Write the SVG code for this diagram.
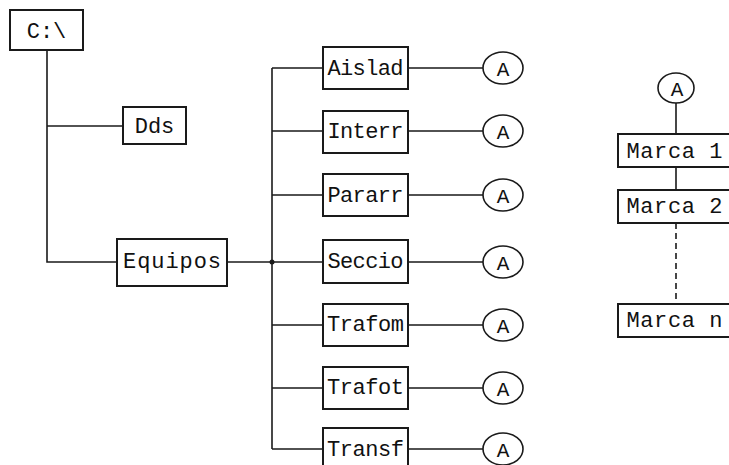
<svg xmlns="http://www.w3.org/2000/svg" width="729" height="465" viewBox="0 0 729 465">
  <style>
    .box { fill: #fff; stroke: #1a1a1a; stroke-width: 2; }
    .ref { fill: #fff; stroke: #1a1a1a; stroke-width: 1.6; }
    .wire { fill: none; stroke: #1a1a1a; stroke-width: 1.6; }
    .dash { fill: none; stroke: #1a1a1a; stroke-width: 1.6; stroke-dasharray: 6 4; }
    text { font-family: "Liberation Mono", "Courier New", monospace; font-size: 22px; fill: #111; text-anchor: middle; }
    .a { font-size: 21px; }
  </style>
  <rect width="729" height="465" fill="#fff"/>

  <!-- connectors -->
  <g id="connectors">
    <path class="wire" d="M47 50 V262 H117"/>
    <path class="wire" d="M47 126 H123"/>
    <path class="wire" d="M227 262 H323"/>
    <path class="wire" d="M272 68 V449"/>
    <path class="wire" d="M272 68 H323 M272 131 H323 M272 195 H323 M272 325 H323 M272 388 H323 M272 449 H323"/>
    <circle cx="272" cy="262" r="2.5" fill="#1a1a1a"/>
    <path class="wire" d="M408 68 H483 M408 131 H483 M408 195 H483 M408 262 H483 M408 325 H483 M408 388 H483 M408 449 H483"/>
    <path class="wire" d="M676 103 V134 M676 167 V190"/>
    <path class="dash" d="M676 223 V304"/>
  </g>

  <!-- tree nodes -->
  <g id="root"><rect class="box" x="10" y="10" width="73" height="40"/><text x="46.5" y="38">C:\</text></g>
  <g id="dds"><rect class="box" x="123" y="107" width="63" height="37"/><text x="154.5" y="133">Dds</text></g>
  <g id="equipos"><rect class="box" x="117" y="239" width="110" height="47"/><text x="172" y="268" textLength="98">Equipos</text></g>

  <g id="aislad"><rect class="box" x="323" y="47" width="85" height="42"/><text x="365.5" y="75" textLength="76">Aislad</text></g>
  <g id="interr"><rect class="box" x="323" y="111" width="85" height="42"/><text x="365.5" y="138" textLength="76">Interr</text></g>
  <g id="pararr"><rect class="box" x="323" y="174" width="85" height="42"/><text x="365.5" y="202" textLength="76">Pararr</text></g>
  <g id="seccio"><rect class="box" x="323" y="240" width="85" height="43"/><text x="365.5" y="268" textLength="76">Seccio</text></g>
  <g id="trafom"><rect class="box" x="323" y="304" width="85" height="42"/><text x="365.5" y="331" textLength="77">Trafom</text></g>
  <g id="trafot"><rect class="box" x="323" y="367" width="85" height="42"/><text x="365.5" y="394" textLength="77">Trafot</text></g>
  <g id="transf"><rect class="box" x="323" y="428" width="85" height="44"/><text x="365.5" y="456" textLength="77">Transf</text></g>

  <!-- off-page references -->
  <g id="ref-aislad"><ellipse class="ref" cx="503" cy="68" rx="20" ry="16"/><text class="a" x="503" y="76">A</text></g>
  <g id="ref-interr"><ellipse class="ref" cx="503" cy="131" rx="20" ry="16"/><text class="a" x="503" y="139">A</text></g>
  <g id="ref-pararr"><ellipse class="ref" cx="503" cy="195" rx="20" ry="16"/><text class="a" x="503" y="203">A</text></g>
  <g id="ref-seccio"><ellipse class="ref" cx="503" cy="262" rx="20" ry="16"/><text class="a" x="503" y="270">A</text></g>
  <g id="ref-trafom"><ellipse class="ref" cx="503" cy="325" rx="20" ry="16"/><text class="a" x="503" y="333">A</text></g>
  <g id="ref-trafot"><ellipse class="ref" cx="503" cy="388" rx="20" ry="16"/><text class="a" x="503" y="396">A</text></g>
  <g id="ref-transf"><ellipse class="ref" cx="503" cy="449" rx="20" ry="16"/><text class="a" x="503" y="457">A</text></g>

  <!-- brand chain -->
  <g id="ref-top"><ellipse class="ref" cx="676" cy="88" rx="18" ry="15"/><text class="a" x="677" y="96">A</text></g>
  <g id="marca1"><rect class="box" x="618" y="134" width="125" height="33"/><text x="674.5" y="158" textLength="96">Marca 1</text></g>
  <g id="marca2"><rect class="box" x="618" y="190" width="125" height="33"/><text x="674.5" y="213" textLength="96">Marca 2</text></g>
  <g id="marcan"><rect class="box" x="618" y="304" width="125" height="33"/><text x="674.5" y="327" textLength="96">Marca n</text></g>
</svg>
